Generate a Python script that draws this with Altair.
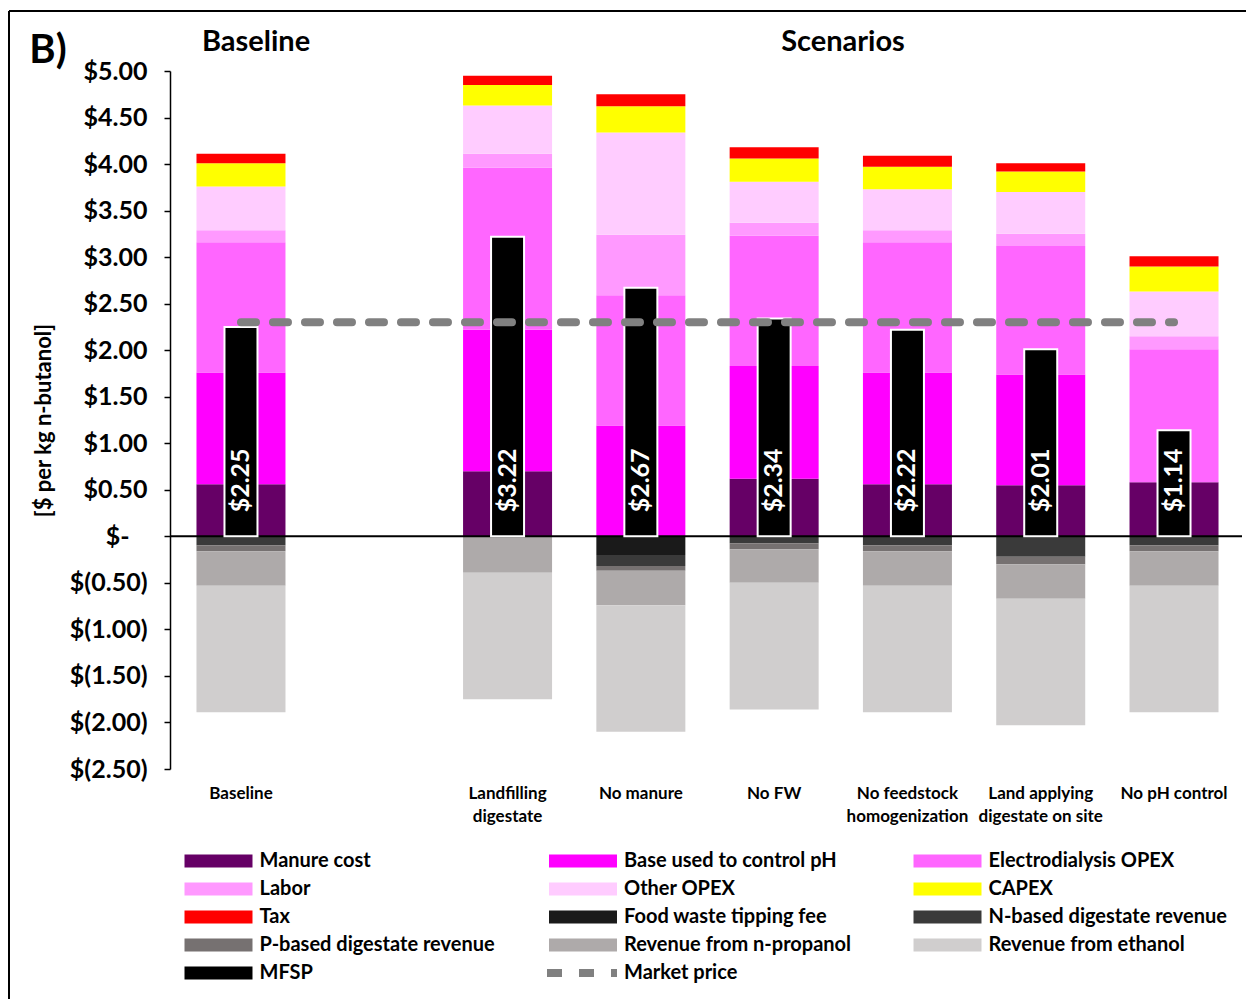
import altair as alt
import pandas as pd

# ---- scenarios (x categories) ----
scenarios = ["Baseline", "Landfilling digestate", "No manure", "No FW",
             "No feedstock homogenization", "Land applying digestate on site",
             "No pH control"]
gap_slot = " "
x_domain = ["Baseline", gap_slot] + scenarios[1:]
label_lines = {
    "Landfilling digestate": ["Landfilling", "digestate"],
    "No feedstock homogenization": ["No feedstock", "homogenization"],
    "Land applying digestate on site": ["Land applying", "digestate on site"],
}

# ---- cost / revenue components, $ per kg n-butanol ----
components = ["Manure cost", "Base used to control pH", "Electrodialysis OPEX",
              "Labor", "Other OPEX", "CAPEX", "Tax", "Food waste tipping fee",
              "N-based digestate revenue", "P-based digestate revenue",
              "Revenue from n-propanol", "Revenue from ethanol"]
manure_cost     = [0.56, 0.70, 0.00, 0.62, 0.56, 0.55, 0.58]
base_ph         = [1.20, 1.52, 1.19, 1.21, 1.20, 1.19, 0.00]
electrodialysis = [1.40, 1.74, 1.40, 1.40, 1.40, 1.38, 1.43]
labor           = [0.13, 0.15, 0.65, 0.14, 0.13, 0.13, 0.14]
other_opex      = [0.47, 0.52, 1.10, 0.44, 0.44, 0.45, 0.48]
capex           = [0.25, 0.22, 0.28, 0.25, 0.24, 0.22, 0.27]
tax             = [0.10, 0.10, 0.13, 0.12, 0.12, 0.09, 0.11]
fw_tipping      = [0.00, 0.00, -0.20, 0.00, 0.00, 0.00, 0.00]
n_digestate     = [-0.095, 0.00, -0.12, -0.075, -0.095, -0.22, -0.095]
p_digestate     = [-0.065, 0.00, -0.05, -0.065, -0.065, -0.08, -0.065]
propanol        = [-0.37, -0.39, -0.37, -0.36, -0.37, -0.37, -0.37]
ethanol         = [-1.36, -1.36, -1.36, -1.36, -1.36, -1.36, -1.36]

mfsp = [2.25, 3.22, 2.67, 2.34, 2.22, 2.01, 1.14]
market_price = 2.30

colors = ["#660066", "#FF00FF", "#FF66FF", "#FF99FF", "#FFCCFF", "#FFFF00",
          "#FF0000", "#1A1A1A", "#3A3A3A", "#767171", "#AEAAAA", "#D0CECE",
          "#000000"]

series = [manure_cost, base_ph, electrodialysis, labor, other_opex, capex, tax,
          fw_tipping, n_digestate, p_digestate, propanol, ethanol]

rows = []
for ci, (name, vals) in enumerate(zip(components, series)):
    for s, v in zip(scenarios, vals):
        rows.append({"scenario": s, "component": name, "value": v, "order": ci})
stack_df = pd.DataFrame(rows)

mfsp_df = pd.DataFrame({
    "scenario": scenarios,
    "value": mfsp,
    "component": ["MFSP"] * len(scenarios),
    "label": ["$" + format(v, ".2f") for v in mfsp],
})
market_df = pd.DataFrame({
    "scenario": [scenarios[0], scenarios[-1]],
    "value": [market_price, market_price],
    "series": ["Market price", "Market price"],
})

W, H = 1075, 698
FONT = "Lato"

legend_domain = components + ["MFSP"]

label_expr = ""
for k, parts in label_lines.items():
    label_expr += "datum.label == '%s' ? [%s] : " % (k, ", ".join("'%s'" % p for p in parts))
label_expr += "datum.label"

x_enc = alt.X(
    "scenario:N",
    scale=alt.Scale(domain=x_domain, paddingInner=0.333, paddingOuter=0.199),
    axis=alt.Axis(title=None, labelAngle=0, domain=False, ticks=False, tickSize=0,
                  labelFont=FONT, labelFontSize=17, labelFontWeight="bold",
                  labelColor="black", labelExpr=label_expr, labelLineHeight=23,
                  labelPadding=16, labelOverlap=False, labelLimit=300),
)

# accounting-style labels: "$-" for zero, parentheses for negatives
BLANK = "\u2800"
y_scale = alt.Scale(domain=[-2.5, 5.0], nice=False, zero=False)
y_axis = alt.Axis(
    values=[5.0 - 0.5 * i for i in range(16)],
    labelExpr=("datum.value == 0 ? '$-" + BLANK + "' : (datum.value < 0 ? "
               "'$(' + format(-datum.value, '.2f') + ')' : "
               "'$' + format(datum.value, '.2f'))"),
    labelFont=FONT, labelFontSize=25, labelFontWeight="bold", labelColor="black",
    labelPadding=17, tickSize=6, tickColor="black", tickWidth=1.5,
    domainColor="black", domainWidth=1.5, grid=False,
    title="[$ per kg n-butanol]", titleFont=FONT, titleFontSize=22,
    titleFontWeight="bold", titleColor="black", titleAngle=270,
    titleX=-127, titleY=H / 2, titleAlign="center", titleBaseline="middle",
)

color_scale = alt.Scale(domain=legend_domain, range=colors)
color_legend = alt.Legend(
    title=None, orient="none", direction="horizontal", legendX=38.5, legendY=780,
    columns=3, gridAlign="all", columnPadding=50.5, rowPadding=8, padding=0,
    symbolType="M-5.23,-1H5.23V1H-5.23Z", symbolSize=169, symbolStrokeWidth=0,
    symbolOpacity=1, labelOffset=31, labelFont=FONT, labelFontSize=20,
    labelFontWeight="bold", labelColor="black", labelLimit=400,
)

bars = alt.Chart(stack_df).mark_bar(size=89).encode(
    x=x_enc,
    y=alt.Y("value:Q", scale=y_scale, axis=y_axis, stack="zero"),
    color=alt.Color("component:N", scale=color_scale, legend=color_legend),
    order=alt.Order("order:Q", sort="ascending"),
)

zero_rule = alt.Chart(pd.DataFrame({"v": [0]})).mark_rule(
    color="black", strokeWidth=2
).encode(y=alt.datum(0), x=alt.value(0), x2=alt.value(W - 3))

mfsp_bars = alt.Chart(mfsp_df).mark_bar(size=33, stroke="white", strokeWidth=2).encode(
    x=x_enc,
    y=alt.Y("value:Q", stack=None),
    y2=alt.datum(0),
    color=alt.Color("component:N", scale=color_scale, legend=color_legend),
)

mfsp_text = alt.Chart(mfsp_df).mark_text(
    angle=270, align="left", baseline="middle", dx=24, color="white",
    font=FONT, fontSize=25, fontWeight="bold",
).encode(x=x_enc, y=alt.datum(0), text="label:N")

market_line = alt.Chart(market_df).mark_line(
    color="#808080", strokeWidth=8, strokeCap="round"
).encode(
    x=x_enc,
    y=alt.Y("value:Q", stack=None),
    strokeDash=alt.StrokeDash(
        "series:N",
        scale=alt.Scale(domain=["Market price"], range=[[15, 17]]),
        legend=alt.Legend(
            title=None, orient="none", legendX=373, legendY=863, padding=0,
            symbolType="stroke", symbolSize=4900, symbolStrokeColor="#808080",
            symbolStrokeWidth=8, symbolDash=[20, 8], labelOffset=3,
            labelFont=FONT, labelFontSize=20, labelFontWeight="bold",
            labelColor="black", labelLimit=300,
        ),
    ),
)

def note(txt, x, y, size):
    return alt.Chart(pd.DataFrame({"t": [txt]})).mark_text(
        font=FONT, fontSize=size, fontWeight="bold", color="black",
        align="center", baseline="middle",
    ).encode(x=alt.value(x), y=alt.value(y), text="t:N")

titles = (note("Baseline", 86, -29, 29) + note("Scenarios", 673, -29, 29)
          + note("B)", -122, -20, 40))

frame_left = alt.Chart(pd.DataFrame({"v": [0]})).mark_rule(color="black", strokeWidth=2).encode(
    x=alt.value(-161), y=alt.value(-60), y2=alt.value(940))
frame_top = alt.Chart(pd.DataFrame({"v": [0]})).mark_rule(color="black", strokeWidth=2).encode(
    x=alt.value(-161), x2=alt.value(W + 10), y=alt.value(-60))

chart = alt.layer(
    bars, zero_rule, mfsp_bars, mfsp_text, market_line, titles, frame_left, frame_top
).properties(
    width=W, height=H,
    autosize=alt.AutoSizeParams(type="none"),
    padding={"left": 170, "top": 71, "right": 1, "bottom": 230},
).configure(font=FONT).configure_view(stroke=None)

chart.save("out.html", embed_options={"renderer": "svg", "actions": False})
